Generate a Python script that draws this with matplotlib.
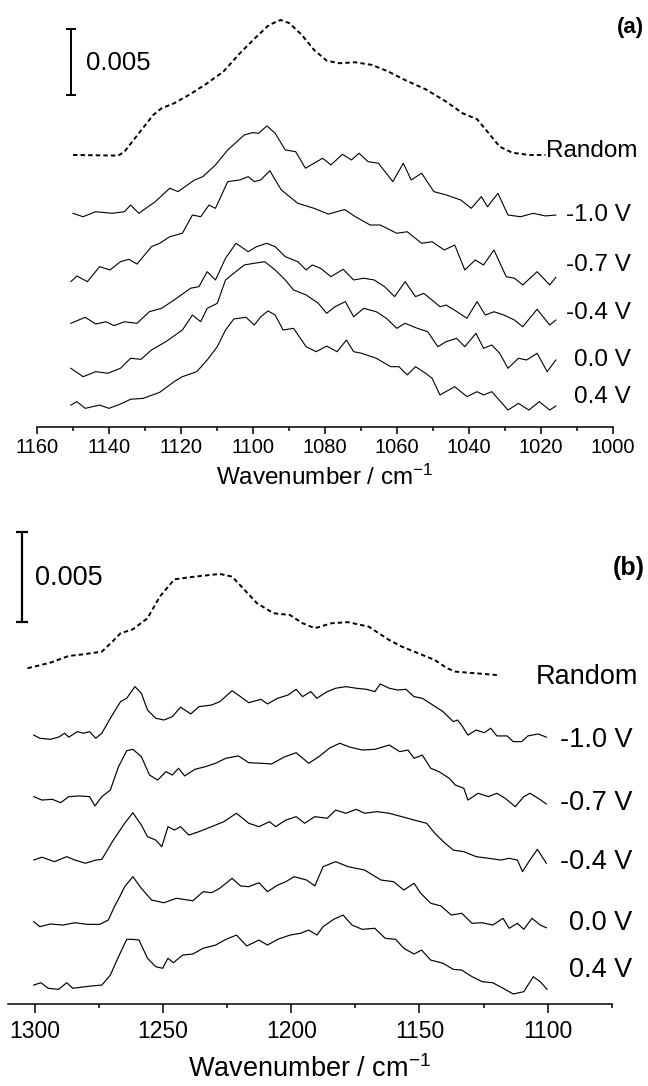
import numpy as np
import matplotlib
matplotlib.use('Agg')
import matplotlib.pyplot as plt
from matplotlib.ticker import MultipleLocator

plt.rcParams['font.family'] = ['Liberation Sans', 'DejaVu Sans']
plt.rcParams['mathtext.default'] = 'regular'

# ---- (a) 1160-1000 cm-1 region, absorbance in mAbs (spectra stacked) ----
a_rand_wn = [1150.0, 1137.4, 1135.7, 1131.7, 1127.7, 1125.4, 1121.9, 1117.3, 1112.7, 1108.2,
             1103.6, 1099.0, 1095.5, 1092.3, 1089.8, 1086.4, 1083.0, 1079.5, 1076.1, 1071.5,
             1066.9, 1062.3, 1057.8, 1052.0, 1046.3, 1041.7, 1037.7, 1034.8, 1031.4, 1027.9,
             1023.3, 1018.7]
a_rand = [20.70, 20.65, 20.95, 22.35, 23.74, 24.25, 24.63, 25.34, 26.16, 27.04,
          28.44, 29.70, 30.59, 30.97, 30.72, 29.83, 28.69, 27.88, 27.68, 27.75,
          27.55, 27.04, 26.41, 25.70, 24.76, 23.87, 23.42, 22.47, 21.33, 20.87,
          20.70, 20.70]

a_m10_wn = [1150.0, 1147.2, 1143.7, 1139.1, 1135.7, 1134.0, 1131.7, 1127.1, 1123.1, 1120.8,
            1116.2, 1113.9, 1110.4, 1107.0, 1102.4, 1100.1, 1098.4, 1096.1, 1093.8, 1091.0,
            1088.1, 1085.4, 1083.0, 1080.6, 1078.3, 1075.1, 1072.6, 1070.5, 1068.0, 1065.1,
            1061.1, 1058.2, 1056.0, 1053.1, 1049.7, 1046.3, 1042.2, 1039.3, 1036.5, 1034.8,
            1031.9, 1029.1, 1025.6, 1022.1, 1018.7, 1015.8]
a_m10 = [16.26, 16.00, 16.38, 16.26, 16.38, 16.89, 16.26, 17.15, 18.17, 17.91,
         18.80, 19.05, 19.94, 21.08, 22.22, 22.40, 22.35, 22.91, 22.35, 21.08,
         20.95, 19.69, 20.07, 20.45, 19.94, 20.75, 20.32, 20.83, 20.19, 20.07,
         18.67, 20.07, 18.80, 19.31, 17.91, 17.66, 17.27, 16.64, 17.53, 16.76,
         17.78, 16.13, 16.00, 16.26, 16.06, 16.13]

a_m07_wn = [1150.6, 1148.9, 1146.0, 1142.6, 1139.7, 1136.8, 1134.5, 1132.2, 1128.2, 1125.9,
            1123.1, 1119.6, 1116.8, 1114.5, 1112.2, 1110.4, 1107.0, 1103.6, 1101.3, 1099.6,
            1097.8, 1095.3, 1092.1, 1087.5, 1083.0, 1079.0, 1074.5, 1071.5, 1067.4, 1064.6,
            1060.0, 1057.1, 1053.1, 1050.2, 1046.8, 1043.9, 1041.1, 1038.2, 1035.9, 1033.0,
            1029.6, 1027.3, 1025.0, 1021.0, 1017.5, 1015.8]
a_m07 = [11.06, 11.49, 11.06, 12.20, 11.95, 12.58, 12.76, 12.40, 13.72, 13.98,
         14.48, 14.74, 16.13, 16.00, 16.89, 16.64, 18.67, 18.80, 19.05, 18.67,
         18.80, 19.50, 18.04, 17.02, 16.64, 16.20, 16.55, 16.00, 15.37, 15.37,
         14.74, 14.86, 13.98, 14.10, 13.47, 13.85, 11.95, 12.71, 12.33, 13.47,
         11.44, 11.32, 10.81, 11.82, 10.81, 11.39]

a_m04_wn = [1150.6, 1146.6, 1143.7, 1140.8, 1138.6, 1135.7, 1132.2, 1128.8, 1125.4, 1121.9,
            1117.3, 1115.0, 1112.7, 1110.4, 1107.6, 1104.7, 1101.3, 1099.0, 1096.1, 1093.8,
            1091.0, 1087.5, 1085.2, 1083.5, 1081.2, 1078.3, 1074.9, 1072.0, 1069.2, 1066.3,
            1063.4, 1060.6, 1057.7, 1054.8, 1052.5, 1050.2, 1048.0, 1046.3, 1044.0, 1040.5,
            1037.7, 1035.4, 1033.0, 1030.2, 1027.3, 1025.0, 1021.0, 1017.5, 1015.8]
a_m04 = [7.89, 8.35, 7.84, 8.01, 7.71, 8.01, 7.89, 8.77, 9.03, 9.66,
         10.56, 10.68, 11.82, 11.19, 12.84, 13.98, 13.34, 13.72, 13.98, 13.72,
         12.96, 12.58, 11.95, 12.33, 12.08, 11.44, 12.00, 11.19, 11.32, 11.19,
         10.68, 9.92, 11.06, 9.92, 10.17, 9.66, 9.15, 9.28, 8.90, 8.27,
         9.54, 8.52, 8.77, 8.52, 8.14, 7.63, 8.96, 7.76, 8.14]

a_p00_wn = [1150.6, 1147.2, 1143.7, 1140.3, 1136.8, 1134.0, 1131.1, 1128.2, 1124.2, 1119.6,
            1116.8, 1114.5, 1112.7, 1109.9, 1107.6, 1105.9, 1102.4, 1099.6, 1096.7, 1093.8,
            1091.0, 1088.7, 1085.2, 1081.8, 1079.5, 1077.2, 1074.3, 1072.0, 1069.2, 1065.7,
            1062.9, 1060.0, 1057.7, 1054.3, 1051.4, 1048.6, 1046.3, 1043.4, 1041.1, 1038.0,
            1035.9, 1033.6, 1031.4, 1029.1, 1026.2, 1023.9, 1021.0, 1018.2, 1015.8]
a_p00 = [4.47, 3.83, 4.21, 4.09, 4.47, 5.23, 5.15, 5.86, 6.49, 7.38,
         8.52, 8.01, 9.03, 9.41, 11.19, 11.57, 12.33, 12.46, 12.58, 11.95,
         11.19, 10.43, 10.05, 9.41, 8.65, 9.15, 9.54, 8.39, 9.03, 8.77,
         8.27, 7.51, 7.89, 7.51, 7.25, 6.11, 6.49, 6.75, 6.11, 7.13,
         5.99, 6.24, 5.61, 4.47, 5.23, 5.10, 5.61, 4.21, 5.10]

a_p04_wn = [1150.6, 1148.9, 1146.6, 1142.6, 1140.0, 1136.8, 1134.0, 1130.5, 1125.9, 1121.9,
            1119.6, 1115.6, 1112.7, 1109.9, 1107.6, 1105.3, 1101.9, 1099.6, 1097.8, 1095.8,
            1093.8, 1091.6, 1088.7, 1085.2, 1082.4, 1079.5, 1076.6, 1074.0, 1072.0, 1069.8,
            1065.7, 1061.7, 1059.4, 1057.1, 1054.8, 1052.0, 1050.2, 1048.0, 1043.9, 1040.5,
            1037.7, 1035.9, 1033.6, 1029.1, 1026.2, 1023.3, 1020.4, 1017.5, 1015.8]
a_p04 = [1.67, 1.93, 1.42, 1.67, 1.42, 1.75, 2.11, 2.18, 2.64, 3.45,
         3.83, 4.21, 5.10, 6.11, 7.38, 8.22, 8.35, 7.76, 8.39, 8.83,
         8.52, 7.38, 7.51, 6.11, 5.73, 6.16, 5.73, 6.62, 5.73, 5.61,
         5.23, 4.59, 4.59, 3.96, 4.59, 4.09, 3.71, 2.44, 3.07, 2.31,
         2.69, 2.44, 2.69, 1.29, 1.80, 1.29, 1.93, 1.29, 1.60]

# ---- (b) 1300-1100 cm-1 region ----
b_rand_wn = [1302.9, 1294.0, 1286.8, 1281.1, 1273.9, 1269.8, 1266.6, 1261.8, 1256.1, 1251.3,
             1245.6, 1237.6, 1227.9, 1223.1, 1218.2, 1213.4, 1206.9, 1200.5, 1195.6, 1190.8,
             1184.3, 1177.9, 1169.8, 1161.8, 1156.9, 1150.5, 1144.0, 1139.2, 1136.0, 1119.8]
b_rand = [18.80, 19.11, 19.49, 19.58, 19.73, 20.29, 20.76, 20.98, 21.60, 22.81,
          23.78, 23.93, 24.08, 23.93, 23.18, 22.44, 21.88, 21.78, 21.32, 21.04,
          21.32, 21.38, 21.13, 20.38, 20.01, 19.64, 19.26, 18.80, 18.61, 18.42]

b_m10_wn = [1300.5, 1298.1, 1294.0, 1290.8, 1288.4, 1286.8, 1283.5, 1281.1, 1278.7, 1276.3,
            1273.9, 1270.6, 1266.6, 1264.2, 1261.0, 1258.5, 1256.1, 1252.9, 1249.7, 1246.4,
            1243.2, 1239.2, 1236.0, 1231.1, 1227.9, 1223.1, 1219.8, 1216.6, 1211.8, 1209.3,
            1205.3, 1201.3, 1198.1, 1195.6, 1192.4, 1190.0, 1186.0, 1182.7, 1178.7, 1174.7,
            1170.6, 1167.4, 1165.3, 1161.8, 1158.5, 1155.3, 1152.1, 1148.9, 1144.8, 1140.8,
            1136.8, 1135.2, 1133.6, 1131.1, 1127.9, 1124.7, 1122.2, 1119.8, 1115.8, 1113.4,
            1110.1, 1107.7, 1103.7, 1100.5]
b_m10 = [15.06, 14.88, 14.82, 14.94, 15.16, 14.94, 15.25, 15.16, 15.25, 14.88,
         15.16, 16.00, 16.93, 17.12, 17.77, 17.40, 16.46, 16.00, 15.90, 16.09,
         16.62, 16.24, 16.65, 16.74, 16.93, 17.54, 17.21, 16.87, 17.06, 16.80,
         17.12, 17.30, 17.62, 17.21, 17.49, 17.12, 17.49, 17.68, 17.77, 17.68,
         17.62, 17.49, 17.92, 17.68, 17.58, 17.62, 17.21, 17.12, 16.74, 16.37,
         15.81, 15.90, 15.62, 15.06, 15.34, 15.19, 15.44, 15.01, 15.01, 14.69,
         14.69, 15.01, 15.12, 14.94]

b_m07_wn = [1300.5, 1297.3, 1293.2, 1290.0, 1286.8, 1282.7, 1278.7, 1276.6, 1273.9, 1270.6,
            1267.4, 1264.2, 1261.8, 1258.5, 1255.3, 1252.1, 1248.9, 1246.4, 1244.0, 1241.6,
            1237.6, 1233.5, 1229.5, 1225.5, 1220.6, 1216.6, 1211.8, 1207.7, 1202.9, 1198.1,
            1193.2, 1189.2, 1185.2, 1181.1, 1177.1, 1172.3, 1167.4, 1161.8, 1157.7, 1154.5,
            1152.1, 1148.9, 1145.6, 1142.4, 1138.4, 1136.0, 1132.7, 1131.1, 1127.1, 1123.1,
            1119.8, 1116.6, 1112.6, 1109.3, 1106.9, 1103.7, 1100.5]
b_m07 = [11.61, 11.42, 11.46, 11.27, 11.61, 11.65, 11.61, 11.09, 11.61, 11.98,
         13.29, 14.18, 14.26, 13.85, 12.82, 12.54, 13.01, 12.82, 13.20, 12.77,
         13.14, 13.29, 13.48, 13.76, 13.89, 13.51, 13.48, 13.44, 13.82, 14.07,
         13.48, 13.85, 14.32, 14.60, 14.38, 14.22, 14.26, 14.50, 14.13, 14.22,
         13.76, 13.94, 13.20, 13.01, 12.64, 12.26, 12.08, 11.42, 11.80, 11.61,
         11.80, 11.52, 11.05, 11.61, 11.80, 11.52, 11.20]

b_m04_wn = [1300.5, 1297.3, 1292.4, 1287.6, 1284.4, 1280.3, 1276.3, 1273.9, 1269.8, 1265.0,
            1261.8, 1258.5, 1256.1, 1252.9, 1250.5, 1248.1, 1245.6, 1243.2, 1240.0, 1236.0,
            1231.1, 1226.3, 1221.4, 1216.6, 1212.6, 1208.5, 1206.1, 1202.1, 1198.1, 1194.8,
            1190.8, 1186.0, 1182.7, 1178.7, 1174.7, 1171.4, 1166.6, 1161.8, 1156.9, 1152.1,
            1147.2, 1144.0, 1140.0, 1136.8, 1132.7, 1127.9, 1123.1, 1118.2, 1115.0, 1111.8,
            1109.8, 1106.9, 1104.0, 1100.5]
b_m04 = [8.06, 8.22, 7.97, 8.25, 8.06, 7.88, 8.06, 8.10, 9.09, 10.12,
         10.71, 10.02, 9.37, 9.18, 8.81, 9.93, 9.74, 9.93, 9.46, 9.65,
         9.93, 10.21, 10.68, 10.12, 9.93, 10.21, 9.93, 10.30, 10.49, 10.12,
         10.49, 10.40, 10.86, 10.68, 10.90, 10.68, 10.77, 10.68, 10.49, 10.30,
         10.12, 9.56, 9.00, 8.62, 8.53, 8.25, 8.16, 8.06, 8.16, 8.06,
         7.41, 8.06, 8.66, 7.88]

b_p00_wn = [1300.5, 1298.1, 1294.0, 1289.2, 1284.4, 1279.5, 1274.7, 1271.4, 1269.0, 1266.6,
            1265.0, 1261.8, 1258.5, 1254.5, 1249.7, 1244.8, 1238.4, 1234.4, 1231.1, 1227.9,
            1223.1, 1219.8, 1216.6, 1212.6, 1209.3, 1205.3, 1202.1, 1198.9, 1194.0, 1190.8,
            1187.6, 1182.7, 1177.9, 1171.4, 1165.0, 1160.1, 1156.1, 1152.1, 1149.7, 1145.6,
            1141.6, 1137.6, 1133.5, 1129.5, 1125.5, 1121.4, 1117.4, 1115.0, 1111.8, 1109.3,
            1106.1, 1102.9, 1100.5]
b_p00 = [4.61, 4.33, 4.48, 4.42, 4.55, 4.46, 4.46, 4.70, 5.45, 6.10,
         6.57, 7.13, 6.48, 5.82, 5.67, 5.92, 5.78, 6.29, 6.23, 6.48,
         7.04, 6.61, 6.57, 6.79, 6.29, 6.66, 6.85, 7.13, 6.94, 6.61,
         7.69, 7.97, 7.69, 7.50, 6.94, 6.85, 6.38, 6.76, 6.23, 5.64,
         5.49, 4.98, 5.08, 4.52, 4.55, 4.42, 4.80, 4.24, 4.52, 4.18,
         4.80, 4.42, 4.27]

b_p04_wn = [1300.5, 1297.7, 1294.8, 1290.8, 1287.6, 1285.2, 1281.9, 1277.9, 1273.9, 1270.6,
            1267.4, 1264.2, 1261.8, 1259.4, 1256.1, 1252.9, 1250.2, 1248.1, 1246.0, 1242.4,
            1238.4, 1234.4, 1229.5, 1225.5, 1221.4, 1217.4, 1212.6, 1209.3, 1205.3, 1200.5,
            1196.4, 1193.2, 1190.0, 1187.6, 1183.5, 1179.8, 1176.3, 1172.3, 1167.4, 1163.4,
            1159.3, 1156.1, 1152.1, 1149.2, 1145.6, 1140.8, 1136.8, 1133.5, 1129.5, 1125.5,
            1121.4, 1117.4, 1113.4, 1109.3, 1105.6, 1102.9, 1100.2]
b_p04 = [1.06, 1.19, 0.88, 0.82, 1.19, 0.88, 0.94, 1.01, 1.06, 1.62,
         2.65, 3.62, 3.62, 3.58, 2.56, 2.09, 2.00, 2.56, 2.31, 2.74,
         2.80, 3.12, 3.30, 3.62, 3.86, 3.25, 3.58, 3.30, 3.62, 3.86,
         3.96, 4.14, 3.86, 4.33, 4.74, 4.98, 4.42, 4.18, 4.24, 3.68,
         3.62, 3.12, 2.80, 3.02, 2.46, 2.28, 1.94, 1.90, 1.53, 1.25,
         1.19, 0.88, 0.56, 0.69, 1.53, 1.25, 0.82]

potentials = ['-1.0 V', '-0.7 V', '-0.4 V', '0.0 V', '0.4 V']
scale_bar = 5.0   # mAbs, i.e. 0.005

fig = plt.figure(figsize=(6.48, 10.86), dpi=100)


def style_axis(ax, major, minor, ticksize, majlen, minlen, pad):
    for s in ('left', 'right', 'top'):
        ax.spines[s].set_visible(False)
    ax.spines['bottom'].set_linewidth(1.1)
    ax.set_yticks([])
    ax.xaxis.set_major_locator(MultipleLocator(major))
    ax.xaxis.set_minor_locator(MultipleLocator(minor))
    ax.tick_params(axis='x', which='major', direction='out', length=majlen,
                   width=1.1, labelsize=ticksize, pad=pad)
    ax.tick_params(axis='x', which='minor', direction='out', length=minlen, width=1.1)


# panel (a)
ax1 = fig.add_axes([0.0571, 0.6068, 0.8884, 0.3932])
ax1.set_xlim(1160, 1000)
ax1.set_ylim(0, 32.49)
style_axis(ax1, 20, 10, 14.5, 5.3, 2.9, 2.5)
ax1.set_xlabel('Wavenumber / cm$^{-1}$', fontsize=17.5, labelpad=6)

ax1.plot(a_rand_wn, a_rand, color='black', lw=1.4, ls=(0, (2.3, 1.6)))
a_traces = [(a_m10_wn, a_m10), (a_m07_wn, a_m07), (a_m04_wn, a_m04),
            (a_p00_wn, a_p00), (a_p04_wn, a_p04)]
for wn, ab in a_traces:
    ax1.plot(wn, ab, color='black', lw=0.8)

a_label_y = [16.13, 12.33, 8.68, 5.10, 2.28]
for lab, yy in zip(potentials, a_label_y):
    ax1.text(995.0, yy, lab, ha='right', va='center', fontsize=17.5, clip_on=False)
ax1.text(1018.4, 21.03, 'Random', ha='left', va='center', fontsize=17.5, clip_on=False)
ax1.text(991.3, 30.40, '(a)', ha='right', va='center', fontsize=16,
         fontweight='bold', clip_on=False)

ax1.errorbar([1150.6], [25.27 + scale_bar / 2], yerr=scale_bar / 2, color='black',
             elinewidth=1.4, capsize=3.4, capthick=1.4)
ax1.text(1146.4, 27.72, '0.005', ha='left', va='center', fontsize=18.5)

# panel (b)
ax2 = fig.add_axes([0.0128, 0.0755, 0.9312, 0.4641])
ax2.set_xlim(1310.4, 1075)
ax2.set_ylim(0, 28.22)
style_axis(ax2, 50, 25, 16.5, 6.3, 3.1, 5)
ax2.set_xlabel('Wavenumber / cm$^{-1}$', fontsize=19.5, labelpad=9)

ax2.plot(b_rand_wn, b_rand, color='black', lw=1.4, ls=(0, (2.3, 1.6)))
b_traces = [(b_m10_wn, b_m10), (b_m07_wn, b_m07), (b_m04_wn, b_m04),
            (b_p00_wn, b_p00), (b_p04_wn, b_p04)]
for wn, ab in b_traces:
    ax2.plot(wn, ab, color='black', lw=0.85)

b_label_y = [14.78, 11.24, 7.97, 4.54, 1.90]
for lab, yy in zip(potentials, b_label_y):
    ax2.text(1066.8, yy, lab, ha='right', va='center', fontsize=19.5, clip_on=False)
ax2.text(1104.7, 18.31, 'Random', ha='left', va='center', fontsize=19.5, clip_on=False)
ax2.text(1062.1, 24.42, '(b)', ha='right', va='center', fontsize=18,
         fontweight='bold', clip_on=False)

ax2.errorbar([1305.0], [21.41 + scale_bar / 2], yerr=scale_bar / 2, color='black',
             elinewidth=1.6, capsize=4.2, capthick=1.6, clip_on=False)
ax2.text(1300.0, 23.87, '0.005', ha='left', va='center', fontsize=19.5)

fig.savefig('out.png', dpi=100)
